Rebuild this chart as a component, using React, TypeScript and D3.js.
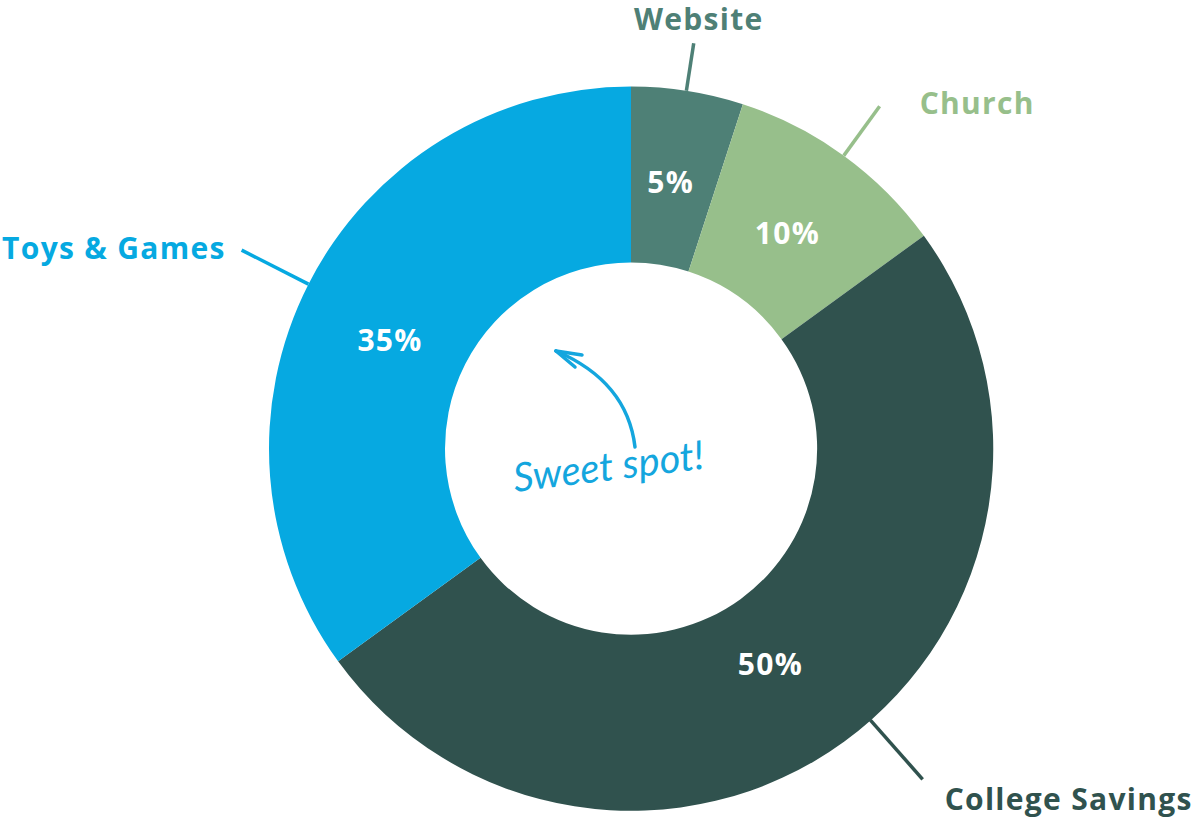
import React from "react";
import * as d3 from "d3";

// Share of money by destination
const categories = ["Website", "Church", "College Savings", "Toys & Games"];
const values = [5, 10, 50, 35];
const palette = ["#4e8076", "#97bf8b", "#30524e", "#06a9e1"];

const W = 1199;
const H = 819;
const cx = 631;
const cy = 448.5;
const outerR = 362;
const innerR = 186;

// leader geometry & label placement per slice (angle in degrees, clockwise from top)
const leaders: Record<string, { angle: number; r0: number; r1: number; dx: number; dy: number; anchor: string }> = {
  Website: { angle: 8.8, r0: 362, r1: 410, dx: 5, dy: -13, anchor: "middle" },
  Church: { angle: 36, r0: 362, r1: 423, dx: 40, dy: 8, anchor: "start" },
  "College Savings": { angle: 138.6, r0: 362, r1: 441, dx: 22, dy: 31, anchor: "start" },
  "Toys & Games": { angle: 297, r0: 362, r1: 437, dx: -16, dy: 9, anchor: "end" },
};

// small nudges of the percentage labels away from the arc centroid
const pctNudge: Record<string, [number, number]> = {
  Website: [-2, -4],
  Church: [0, 0],
  "College Savings": [-17, 0],
  "Toys & Games": [-4, 12],
};

const FONT = "'Open Sans', Lato, sans-serif";
const FS = 30;
const SPACING = 1.3;

export default function App() {
  const color = d3.scaleOrdinal<string, string>().domain(categories).range(palette);
  const data = categories.map((c, i) => ({ name: c, value: values[i] }));
  const pie = d3.pie<{ name: string; value: number }>().sort(null).value((d) => d.value);
  const arcs = pie(data);
  const arc = d3.arc<d3.PieArcDatum<{ name: string; value: number }>>().innerRadius(innerR).outerRadius(outerR);
  const labelArc = d3.arc<d3.PieArcDatum<{ name: string; value: number }>>().innerRadius(266).outerRadius(266);

  const polar = (deg: number, r: number): [number, number] => {
    const a = (deg * Math.PI) / 180;
    return [Math.sin(a) * r, -Math.cos(a) * r];
  };

  // hand-drawn arrow pointing into the hole
  const arrowPath = "M635,447 C630,405 605,372 556,351";

  return (
    <svg width={W} height={H} style={{ position: "absolute", left: 0, top: 0 }}>
      <rect width={W} height={H} fill="#ffffff" />
      <g transform={`translate(${cx},${cy})`}>
        {arcs.map((a) => (
          <path key={a.data.name} d={arc(a) || ""} fill={color(a.data.name)} />
        ))}
        {arcs.map((a) => {
          const [x, y] = labelArc.centroid(a);
          const [nx, ny] = pctNudge[a.data.name];
          return (
            <text
              key={"p" + a.data.name}
              x={x + nx}
              y={y + ny + 11}
              textAnchor="middle"
              fill="#ffffff"
              fontFamily={FONT}
              fontWeight={700}
              fontSize={FS}
              letterSpacing={SPACING}
            >
              {a.data.value}%
            </text>
          );
        })}
        {arcs.map((a) => {
          const L = leaders[a.data.name];
          const [x0, y0] = polar(L.angle, L.r0);
          const [x1, y1] = polar(L.angle, L.r1);
          const c = color(a.data.name);
          return (
            <g key={"l" + a.data.name}>
              <line x1={x0} y1={y0} x2={x1} y2={y1} stroke={c} strokeWidth={3.5} />
              <text
                x={x1 + L.dx}
                y={y1 + L.dy}
                textAnchor={L.anchor as any}
                fill={c}
                fontFamily={FONT}
                fontWeight={700}
                fontSize={FS}
                letterSpacing={SPACING}
              >
                {a.data.name}
              </text>
            </g>
          );
        })}
      </g>
      <g fill="none" stroke="#14a6de" strokeWidth={3.5} strokeLinecap="round">
        <path d={arrowPath} />
        <path d="M556,351 L582,355" />
        <path d="M556,351 L575,367" />
      </g>
      <text
        x={515}
        y={492}
        transform="rotate(-7 515 492)"
        fill="#14a6de"
        fontFamily="Lato, sans-serif"
        fontStyle="italic"
        fontSize={40}
      >
        Sweet spot!
      </text>
    </svg>
  );
}
